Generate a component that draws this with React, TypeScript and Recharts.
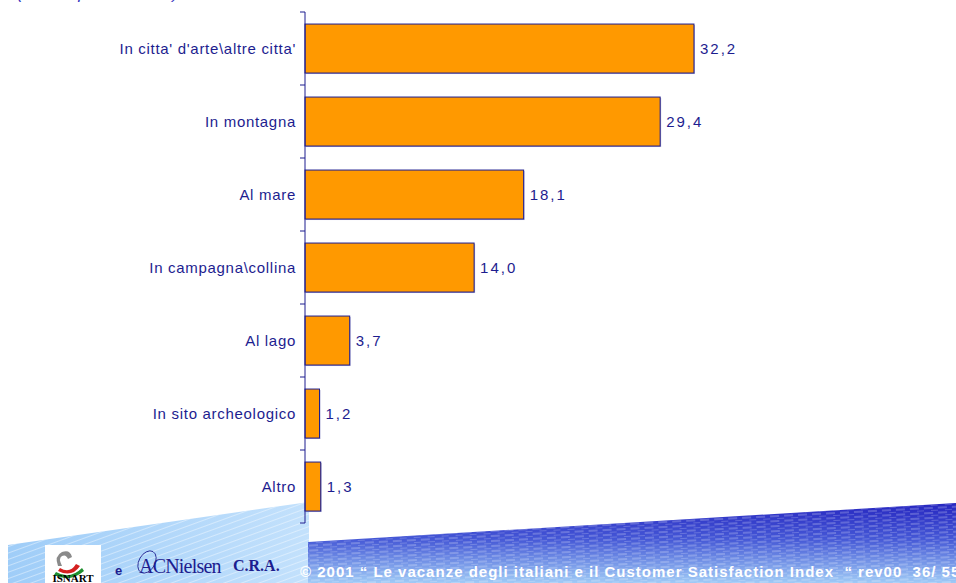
import React from 'react';
import { BarChart, Bar, XAxis, YAxis, LabelList } from 'recharts';

const categories = [
  "In citta' d'arte\\altre citta'",
  'In montagna',
  'Al mare',
  'In campagna\\collina',
  'Al lago',
  'In sito archeologico',
  'Altro',
];
const values = [32.2, 29.4, 18.1, 14.0, 3.7, 1.2, 1.3];

const NAVY = '#1d1d8f';
const W = 956;
const H = 583;
const AXIS_X = 305;
const TOP = 12;
const BOTTOM = 60;
const BAND = (H - TOP - BOTTOM) / categories.length;

const data = categories.map((name, i) => ({ name, value: values[i] }));

const fmt = (v: any) => Number(v).toFixed(1).replace('.', ',');

// category label plus tick marks on the band boundaries
const CategoryTick = (props: any) => {
  const { y, payload, index } = props;
  const last = index === categories.length - 1;
  return (
    <g>
      <line x1={AXIS_X - 5} x2={AXIS_X} y1={y - BAND / 2} y2={y - BAND / 2} stroke={NAVY} />
      {last && <line x1={AXIS_X - 5} x2={AXIS_X} y1={y + BAND / 2} y2={y + BAND / 2} stroke={NAVY} />}
      <text
        x={AXIS_X - 9}
        y={y}
        dy={5}
        textAnchor="end"
        fill={NAVY}
        fontSize={15}
        letterSpacing={0.7}
        fontFamily="'Liberation Sans', Arial, sans-serif"
      >
        {payload.value}
      </text>
    </g>
  );
};

// bar with the thin shadow seen under each bar
const ShadowBar = (props: any) => {
  const { x, y, width, height } = props;
  if (!width || width <= 0) return null;
  return (
    <g>
      <rect x={x + 1} y={y + 1} width={width} height={height} fill="#b3b3d9" />
      <rect x={x} y={y} width={width} height={height} fill="#ff9900" stroke={NAVY} strokeWidth={1} />
    </g>
  );
};

const Footer = () => (
  <svg width={W} height={H} style={{ position: 'absolute', left: 0, top: 0 }}>
    <defs>
      <linearGradient id="lightG" x1="0" y1="0" x2="1" y2="0">
        <stop offset="0%" stopColor="#9fcdf8" />
        <stop offset="100%" stopColor="#c3e1fc" />
      </linearGradient>
      <pattern id="diag" width="6" height="6" patternUnits="userSpaceOnUse" patternTransform="rotate(-20)">
        <line x1="0" y1="0" x2="6" y2="0" stroke="#ffffff" strokeWidth="1.5" opacity="0.55" />
      </pattern>
      <linearGradient id="darkG" x1="0" y1="0" x2="0" y2="1">
        <stop offset="0%" stopColor="#2626c0" />
        <stop offset="45%" stopColor="#4558d6" />
        <stop offset="100%" stopColor="#9fcaf6" />
      </linearGradient>
      <pattern id="dash" width="14" height="5" patternUnits="userSpaceOnUse" patternTransform="rotate(-3)">
        <line x1="0" y1="1" x2="9" y2="1" stroke="#ffffff" strokeWidth="1.2" opacity="0.35" />
        <line x1="7" y1="3.5" x2="14" y2="3.5" stroke="#ffffff" strokeWidth="1" opacity="0.2" />
      </pattern>
    </defs>
    <polygon points="8,545 309,502 309,583 8,583" fill="url(#lightG)" />
    <polygon points="8,545 309,502 309,583 8,583" fill="url(#diag)" />
    <polygon points="308,542 956,503 956,583 308,583" fill="url(#darkG)" />
    <polygon points="308,542 956,503 956,583 308,583" fill="url(#dash)" />

    {/* ISNART logo */}
    <rect x={45} y={545} width={56} height={38} fill="#ffffff" />
    <path d="M58 566 q-4 -10 4 -14 q8 -3 10 5 l-4 2 q-2 -5 -6 -3 q-4 2 0 10 z" fill="#8a8a8a" />
    <path d="M60 568 q10 6 16 -4 l4 2 q-8 12 -22 5 z" fill="#d42020" />
    <path d="M56 572 q14 8 26 -4 l2 3 q-14 12 -30 4 z" fill="#1f8f2f" />
    <text x={73} y={582} textAnchor="middle" fontSize={11} fontWeight="bold" fontFamily="'Liberation Serif', serif" fill="#000">
      ISNART
    </text>

    <text x={115} y={575} fontSize={13} fontWeight="bold" fontFamily="'Liberation Sans', Arial, sans-serif" fill={NAVY}>
      e
    </text>
    <ellipse cx={147} cy={562} rx={8} ry={12} fill="none" stroke={NAVY} strokeWidth={0.8} transform="rotate(30 147 562)" />
    <text x={139} y={573} fontSize={20} fontFamily="'Liberation Serif', serif" fill={NAVY} letterSpacing={-0.8}>
      ACNielsen
    </text>
    <text x={233} y={571} fontSize={16} fontWeight="bold" fontFamily="'Liberation Serif', serif" fill={NAVY}>
      C.R.A.
    </text>

    <text
      x={300}
      y={577}
      fontSize={15}
      fontWeight="bold"
      letterSpacing={1}
      fontFamily="'Liberation Sans', Arial, sans-serif"
      fill="#ffffff"
      style={{ whiteSpace: 'pre' }}
    >
      {'© 2001 “ Le vacanze degli italiani e il Customer Satisfaction Index  “ rev00  36/ 55'}
    </text>
  </svg>
);

export default function App() {
  return (
    <div
      style={{
        position: 'absolute',
        left: 0,
        top: 0,
        width: W,
        height: H,
        overflow: 'hidden',
        background: '#ffffff',
        fontFamily: "'Liberation Sans', Arial, sans-serif",
      }}
    >
      <Footer />
      <svg width={W} height={20} style={{ position: 'absolute', left: 0, top: 0 }}>
        <text x={17} y={-1} fontSize={17} fontStyle="italic" letterSpacing={1} fill="#3535c0" fontFamily="'Liberation Sans', Arial, sans-serif">
          (Valori percentuali)
        </text>
      </svg>
      <div style={{ position: 'absolute', left: 0, top: 0 }}>
        <BarChart
          width={W}
          height={H}
          data={data}
          layout="vertical"
          margin={{ top: TOP, right: 47, bottom: BOTTOM, left: 0 }}
          barCategoryGap="16.5%"
        >
          <XAxis type="number" domain={[0, 50]} hide />
          <YAxis
            type="category"
            dataKey="name"
            width={AXIS_X}
            axisLine={{ stroke: NAVY }}
            tickLine={false}
            tick={<CategoryTick />}
            interval={0}
          />
          <Bar dataKey="value" shape={<ShadowBar />} isAnimationActive={false}>
            <LabelList
              dataKey="value"
              position="right"
              offset={6}
              formatter={fmt}
              fill={NAVY}
              fontSize={15}
              letterSpacing={2}
              fontFamily="'Liberation Sans', Arial, sans-serif"
            />
          </Bar>
        </BarChart>
      </div>
    </div>
  );
}
